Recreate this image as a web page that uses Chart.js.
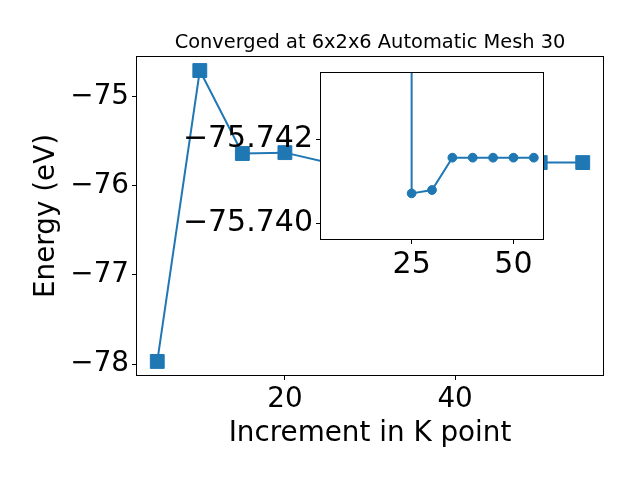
<!DOCTYPE html>
<html><head><meta charset="utf-8">
<script src="https://cdn.jsdelivr.net/npm/chart.js@4/dist/chart.umd.min.js"></script>
<style>
html,body{margin:0;padding:0;background:#fff;}
#wrap{position:relative;width:640px;height:480px;overflow:hidden;}
#main{position:absolute;left:0;top:0;}
#inset{position:absolute;left:160px;top:60px;}
</style></head><body>
<div id="wrap">
<canvas id="main" width="640" height="480"></canvas>
<canvas id="inset" width="400" height="230"></canvas>
</div>
<script>
// ---- data ----
const kPoints = [5, 10, 15, 20, 25, 30, 35, 40, 45, 50, 55];
const energies = [-77.97, -74.71, -75.64, -75.63, -75.7407, -75.7408, -75.74156, -75.74156, -75.74156, -75.74156, -75.74156];
const insetK = [25, 25, 30, 35, 40, 45, 50, 55];
const insetEnergies = [-75.7500, -75.74071, -75.74079, -75.74156, -75.74156, -75.74156, -75.74156, -75.74156];
const mainXTicks = [20, 40];
const mainYTicks = [-75, -76, -77, -78];
const insetXTicks = [25, 50];
const insetYTicks = [-75.742, -75.740];
const titleText = 'Converged at 6x2x6 Automatic Mesh 30';
const xLabel = 'Increment in K point';
const yLabel = 'Energy (eV)';

// ---- styling ----
const blue = '#1f77b4';
const fam = '"DejaVu Sans", sans-serif';
const minus = s => String(s).replace('-', '\u2212');

function framePlugin(fillAll) {
  return {
    id: 'frame',
    beforeDraw(chart) {
      const {ctx, chartArea: a} = chart;
      ctx.save();
      ctx.fillStyle = '#fff';
      if (fillAll) ctx.fillRect(0, 0, chart.width, chart.height);
      else ctx.fillRect(a.left, a.top, a.right - a.left, a.bottom - a.top);
      ctx.restore();
    },
    afterDatasetsDraw(chart) {
      const {ctx, chartArea: a} = chart;
      ctx.save();
      ctx.strokeStyle = '#000';
      ctx.lineWidth = 1;
      ctx.strokeRect(Math.round(a.left) + 0.5, Math.round(a.top) + 0.5,
                     Math.round(a.right - a.left) - 1, Math.round(a.bottom - a.top) - 1);
      ctx.restore();
    }
  };
}

function noPad(s) {
  s.paddingTop = 0; s.paddingBottom = 0; s.paddingLeft = 0; s.paddingRight = 0;
}

const gridOpts = {display: true, drawOnChartArea: false, drawTicks: true, tickLength: 4, color: '#000', lineWidth: 1};

new Chart(document.getElementById('main'), {
  type: 'line',
  data: {
    datasets: [{
      data: kPoints.map((x, i) => ({x: x, y: energies[i]})),
      borderColor: blue, backgroundColor: blue, borderWidth: 2,
      pointStyle: 'rect', pointRadius: 9.8, pointBorderWidth: 1,
      pointBorderColor: blue, pointBackgroundColor: blue, tension: 0, fill: false
    }]
  },
  options: {
    responsive: false, animation: false, devicePixelRatio: 1,
    layout: {padding: {left: 0, right: 36, top: 0, bottom: 0}},
    plugins: {
      legend: {display: false}, tooltip: {enabled: false},
      title: {display: true, text: titleText, fullSize: false, color: '#000',
              font: {family: fam, size: 19.4, weight: 'normal'}, padding: {top: 31, bottom: 1.7}}
    },
    scales: {
      x: {
        type: 'linear', min: 2.5, max: 57.5,
        afterBuildTicks: s => { s.ticks = mainXTicks.map(v => ({value: v})); },
        afterFit: s => { s.height = 104; noPad(s); },
        ticks: {color: '#000', font: {family: fam, size: 27.8}, padding: 3, maxRotation: 0, autoSkip: false},
        grid: gridOpts, border: {display: false},
        title: {display: true, text: xLabel, color: '#000', font: {family: fam, size: 27.8}, padding: {top: 0, bottom: 30}}
      },
      y: {
        type: 'linear', min: -78.133, max: -74.547,
        afterBuildTicks: s => { s.ticks = mainYTicks.map(v => ({value: v})); },
        afterFit: s => { s.width = 136; noPad(s); },
        ticks: {color: '#000', font: {family: fam, size: 27.8}, padding: 3, autoSkip: false,
                callback: v => minus(v)},
        grid: gridOpts, border: {display: false},
        title: {display: true, text: yLabel, color: '#000', font: {family: fam, size: 27.8}, padding: {top: 30, bottom: 0}}
      }
    }
  },
  plugins: [framePlugin(true)]
});

new Chart(document.getElementById('inset'), {
  type: 'line',
  data: {
    datasets: [{
      data: insetK.map((x, i) => ({x: x, y: insetEnergies[i]})),
      borderColor: blue, backgroundColor: blue, borderWidth: 2,
      pointStyle: 'circle', pointRadius: 4.4, pointBorderWidth: 1,
      pointBorderColor: blue, pointBackgroundColor: blue, tension: 0, fill: false
    }]
  },
  options: {
    responsive: false, animation: false, devicePixelRatio: 1,
    layout: {padding: {left: 0, right: 16, top: 12, bottom: 0}},
    plugins: {legend: {display: false}, tooltip: {enabled: false}, title: {display: false}},
    scales: {
      x: {
        type: 'linear', min: 2.5, max: 57.5,
        afterBuildTicks: s => { s.ticks = insetXTicks.map(v => ({value: v})); },
        afterFit: s => { s.height = 50; noPad(s); },
        ticks: {color: '#000', font: {family: fam, size: 30}, padding: 3, maxRotation: 0, autoSkip: false},
        grid: gridOpts, border: {display: false}
      },
      y: {
        type: 'linear', min: -75.7436, max: -75.7396, reverse: true,
        afterBuildTicks: s => { s.ticks = insetYTicks.map(v => ({value: v})); },
        afterFit: s => { s.width = 160; noPad(s); },
        ticks: {color: '#000', font: {family: fam, size: 30}, padding: 3, autoSkip: false,
                callback: v => minus(Number(v).toFixed(3))},
        grid: gridOpts, border: {display: false}
      }
    }
  },
  plugins: [framePlugin(false)]
});
</script>
</body></html>
